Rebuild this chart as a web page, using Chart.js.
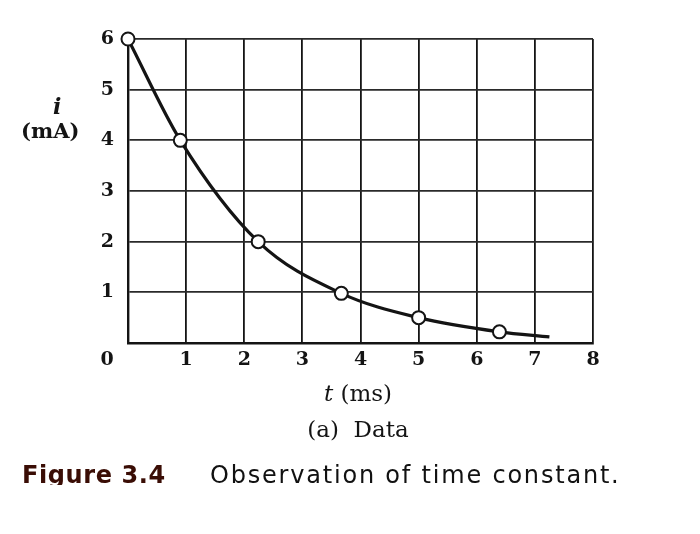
<!DOCTYPE html>
<html>
<head>
<meta charset="utf-8">
<script src="https://cdn.jsdelivr.net/npm/chart.js@4"></script>
<style>
  html, body { margin: 0; padding: 0; background: #fff; }
  #wrap { position: relative; width: 700px; height: 534px; overflow: hidden; }
  #chart { position: absolute; left: 0; top: 0; }
  .lbl { position: absolute; font-family: "DejaVu Serif", serif; color: #141414; white-space: nowrap; }
  .mid { width: 300px; text-align: center; }
  #caption { position: absolute; left: 22px; top: 461px; width: 660px; height: 24px; overflow: hidden; white-space: nowrap; }
  #caption b { font-family: "DejaVu Sans", sans-serif; font-weight: bold; font-size: 24px; color: #3a0d05; letter-spacing: 0.6px; }
  #caption span { position: absolute; left: 188px; top: 0; font-family: "DejaVu Sans", sans-serif; font-size: 24px; color: #111; letter-spacing: 1.8px; }
</style>
</head>
<body>
<div id="wrap">
  <canvas id="chart" width="700" height="534"></canvas>
  <div class="lbl" style="left:53px; top:93px; font-size:22px; font-style:italic; font-weight:bold;">i</div>
  <div class="lbl" style="left:21px; top:118px; font-size:21px; font-weight:bold;">(mA)</div>
  <div class="lbl mid" style="left:208px; top:380px; font-size:23px;"><i>t</i>&nbsp;(ms)</div>
  <div class="lbl mid" style="left:208px; top:416px; font-size:23px;">(a)&nbsp; Data</div>
  <div id="caption"><b>Figure 3.4</b><span>Observation of time constant.</span></div>
</div>
<script>
// measured points (t in ms, i in mA)
var tPoints = [0, 0.9, 2.24, 3.67, 5.0, 6.39];
var iPoints = [6, 4, 2, 0.98, 0.5, 0.22];
// smooth curve drawn through the data, ends a bit past the last point
var tCurve = [0, 0.9, 2.24, 3.67, 5.0, 6.39, 7.25];
var iCurve = [6, 4, 2, 0.98, 0.5, 0.22, 0.12];
var xTicks = [0, 1, 2, 3, 4, 5, 6, 7, 8];
var yTicks = [0, 1, 2, 3, 4, 5, 6];

function toXY(xs, ys) {
  return xs.map(function(x, k) { return { x: x, y: ys[k] }; });
}

var ink = '#141414';
var tickFont = { family: 'DejaVu Serif', size: 19, weight: 'bold' };

// the shared "0" at the origin sits under the y labels, on the x label row
var originLabel = {
  id: 'originLabel',
  afterDraw: function(chart) {
    var ctx = chart.ctx;
    ctx.save();
    ctx.font = 'bold 19px "DejaVu Serif"';
    ctx.fillStyle = ink;
    ctx.textAlign = 'center';
    ctx.textBaseline = 'middle';
    ctx.fillText('0', 107, chart.scales.x.top + 17);
    ctx.restore();
  }
};

new Chart(document.getElementById('chart'), {
  type: 'scatter',
  data: {
    datasets: [{
      data: toXY(tPoints, iPoints),
      backgroundColor: '#fff',
      borderColor: ink,
      borderWidth: 2,
      pointRadius: 6.5,
      clip: false,
      order: 0
    }, {
      type: 'line',
      data: toXY(tCurve, iCurve),
      borderColor: ink,
      borderWidth: 3.2,
      pointRadius: 0,
      fill: false,
      cubicInterpolationMode: 'monotone',
      order: 1
    }]
  },
  options: {
    responsive: false,
    animation: false,
    layout: { padding: { left: 0, right: 107, top: 39, bottom: 161 } },
    plugins: { legend: { display: false }, tooltip: { enabled: false } },
    scales: {
      x: {
        type: 'linear', min: 0, max: 8,
        afterBuildTicks: function(s) { s.ticks = xTicks.map(function(v) { return { value: v }; }); },
        afterFit: function(s) { s.height = 30; },
        ticks: {
          font: tickFont, color: ink, padding: 6, maxRotation: 0,
          callback: function(v) { return v === 0 ? '' : v; }
        },
        grid: { color: ink, lineWidth: 1.8, drawTicks: false },
        border: { color: ink, width: 2.4 }
      },
      y: {
        type: 'linear', min: 0, max: 6,
        afterBuildTicks: function(s) { s.ticks = yTicks.map(function(v) { return { value: v }; }); },
        afterFit: function(s) { s.width = 128; },
        ticks: {
          font: tickFont, color: ink, padding: 14,
          callback: function(v) { return v === 0 ? '' : v; }
        },
        grid: { color: '#2a2a2a', lineWidth: 1.8, drawTicks: false },
        border: { color: ink, width: 2.4 }
      }
    }
  },
  plugins: [originLabel]
});
</script>
</body>
</html>
